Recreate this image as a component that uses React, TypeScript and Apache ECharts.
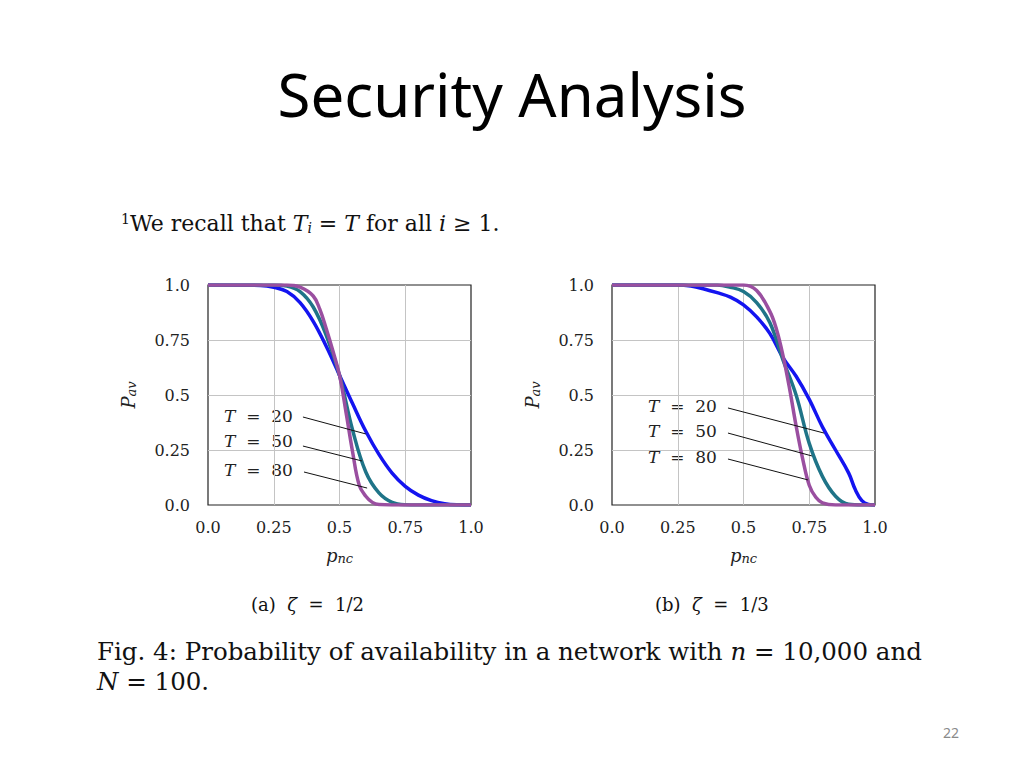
import React, { useEffect, useRef } from "react";
import * as echarts from "echarts";

// ---- Data: (a) zeta = 1/2 ----
const xA_T20 = [0, 0.2, 0.25, 0.3, 0.35, 0.4, 0.45, 0.5, 0.55, 0.6, 0.65, 0.7, 0.75, 0.8, 0.85, 0.9, 0.95, 1];
const yA_T20 = [1, 0.998, 0.99, 0.97, 0.92, 0.835, 0.72, 0.59, 0.46, 0.335, 0.23, 0.145, 0.085, 0.045, 0.02, 0.006, 0.001, 0];
const xA_T50 = [0, 0.25, 0.3, 0.35, 0.4, 0.45, 0.5, 0.55, 0.6, 0.65, 0.7, 0.75, 0.8, 1];
const yA_T50 = [1, 1, 0.995, 0.97, 0.9, 0.77, 0.59, 0.34, 0.15, 0.055, 0.012, 0.001, 0, 0];
const xA_T80 = [0, 0.3, 0.35, 0.4, 0.425, 0.45, 0.475, 0.5, 0.525, 0.55, 0.575, 0.6, 0.625, 0.65, 0.7, 1];
const yA_T80 = [1, 1, 0.99, 0.95, 0.89, 0.8, 0.7, 0.59, 0.42, 0.24, 0.09, 0.04, 0.012, 0.002, 0, 0];

// ---- Data: (b) zeta = 1/3 ----
const xB_T20 = [0, 0.25, 0.3, 0.35, 0.4, 0.45, 0.5, 0.55, 0.6, 0.65, 0.7, 0.75, 0.8, 0.85, 0.9, 0.925, 0.95, 0.975, 1];
const yB_T20 = [1, 1, 0.995, 0.982, 0.965, 0.945, 0.91, 0.855, 0.78, 0.67, 0.585, 0.48, 0.355, 0.25, 0.145, 0.07, 0.02, 0.003, 0];
const xB_T50 = [0, 0.4, 0.45, 0.5, 0.55, 0.6, 0.65, 0.7, 0.75, 0.8, 0.85, 0.9, 0.95, 1];
const yB_T50 = [1, 1, 0.99, 0.97, 0.92, 0.83, 0.66, 0.5, 0.28, 0.13, 0.04, 0.003, 0, 0];
const xB_T80 = [0, 0.5, 0.55, 0.6, 0.625, 0.65, 0.675, 0.7, 0.725, 0.75, 0.775, 0.8, 0.85, 1];
const yB_T80 = [1, 1, 0.975, 0.88, 0.8, 0.68, 0.53, 0.36, 0.21, 0.09, 0.035, 0.01, 0, 0];

// leader lines [x0, y0, x1, y1] in data coords
const leadersA = [
  [0.361, 0.4, 0.6, 0.323],
  [0.361, 0.268, 0.586, 0.2],
  [0.365, 0.15, 0.605, 0.077],
];
const leadersB = [
  [0.441, 0.441, 0.806, 0.327],
  [0.441, 0.327, 0.76, 0.223],
  [0.441, 0.209, 0.745, 0.114],
];

const tickLabels = ["0.0", "0.25", "0.5", "0.75", "1.0"];
const seriesNames = ["T = 20", "T = 50", "T = 80"];
const colors = ["#1414f0", "#1f7488", "#9a4fa0"];

const pairs = (xs: number[], ys: number[]) => xs.map((x, i) => [x, ys[i]]);
const fmt = (v: number) => tickLabels[Math.round(v * 4)] ?? String(v);

const labelFont = "DejaVu Serif";
const serif = "DejaVu Serif";

function makeAxes(gi: number) {
  const common = {
    type: "value",
    min: 0,
    max: 1,
    interval: 0.25,
    gridIndex: gi,
    axisLine: { show: false },
    axisTick: { show: false },
    splitLine: { show: true, showMinLine: false, showMaxLine: false, lineStyle: { color: "#c4c4c4", width: 1 } },
    axisLabel: { formatter: fmt, fontFamily: labelFont, fontSize: 16, color: "#222" },
  };
  const nameRich = {
    p: { fontFamily: labelFont, fontStyle: "italic", fontSize: 18, color: "#222" },
    s: { fontFamily: labelFont, fontStyle: "italic", fontSize: 13, color: "#222", padding: [6, 0, 0, 0] },
  };
  return {
    x: {
      ...common,
      name: "{p|p}{s|nc}",
      nameLocation: "middle",
      nameGap: 41,
      nameTextStyle: { rich: nameRich },
      axisLabel: { ...common.axisLabel, margin: 14 },
    },
    y: {
      ...common,
      name: "{p|P}{s|av}",
      nameLocation: "middle",
      nameGap: 70,
      nameRotate: 90,
      nameTextStyle: { rich: nameRich },
      axisLabel: { ...common.axisLabel, margin: 18 },
    },
  };
}

function lineSeries(name: string, xs: number[], ys: number[], gi: number, color: string, leader?: number[]) {
  return {
    type: "line",
    name,
    xAxisIndex: gi,
    yAxisIndex: gi,
    data: pairs(xs, ys),
    smooth: 0.4,
    showSymbol: false,
    lineStyle: { width: 3.5, color },
    itemStyle: { color },
    markLine: leader
      ? {
          silent: true,
          symbol: "none",
          label: { show: false },
          lineStyle: { color: "#111", width: 1, type: "solid" },
          data: [[{ coord: [leader[0], leader[1]] }, { coord: [leader[2], leader[3]] }]],
        }
      : undefined,
  };
}

function tLabel(text: string, x: number, y: number) {
  const num = text.split("=")[1].trim();
  return {
    type: "text",
    left: x,
    top: y - 10,
    style: {
      text: "{i|T}  =  " + num,
      rich: { i: { fontStyle: "italic", fontFamily: labelFont, fontSize: 17, fill: "#222" } },
      fontFamily: labelFont,
      fontSize: 17,
      fill: "#222",
    },
  };
}

export default function App() {
  const ref = useRef<HTMLDivElement>(null);
  useEffect(() => {
    if (!ref.current) return;
    const chart = echarts.init(ref.current, undefined, { renderer: "svg" });
    const a = makeAxes(0);
    const b = makeAxes(1);
    chart.setOption({
      animation: false,
      backgroundColor: "#ffffff",
      grid: [
        { left: 208, top: 285, width: 263, height: 220, show: true, borderColor: "#222", borderWidth: 1.2 },
        { left: 612, top: 285, width: 263, height: 220, show: true, borderColor: "#222", borderWidth: 1.2 },
      ],
      xAxis: [a.x, b.x],
      yAxis: [a.y, b.y],
      series: [
        lineSeries(seriesNames[0], xA_T20, yA_T20, 0, colors[0], leadersA[0]),
        lineSeries(seriesNames[1], xA_T50, yA_T50, 0, colors[1], leadersA[1]),
        lineSeries(seriesNames[2], xA_T80, yA_T80, 0, colors[2], leadersA[2]),
        lineSeries(seriesNames[0], xB_T20, yB_T20, 1, colors[0], leadersB[0]),
        lineSeries(seriesNames[1], xB_T50, yB_T50, 1, colors[1], leadersB[1]),
        lineSeries(seriesNames[2], xB_T80, yB_T80, 1, colors[2], leadersB[2]),
      ],
      graphic: [
        {
          type: "text",
          left: "center",
          top: 64,
          style: { text: "Security Analysis", fontFamily: "Noto Sans", fontSize: 60, fill: "#000" },
        },
        {
          type: "text",
          left: 121,
          top: 212,
          style: {
            text: "{sup|1}We recall that {i|T}{sub|i} = {i|T} for all {i|i} ≥ 1.",
            fontFamily: serif,
            fontSize: 22,
            fill: "#111",
            rich: {
              sup: { fontFamily: serif, fontSize: 14, fill: "#111", padding: [0, 0, 9, 0] },
              i: { fontFamily: serif, fontStyle: "italic", fontSize: 22, fill: "#111" },
              sub: { fontFamily: serif, fontStyle: "italic", fontSize: 14, fill: "#111", padding: [9, 0, 0, 0] },
            },
          },
        },
        tLabel(seriesNames[0], 224, 417),
        tLabel(seriesNames[1], 224, 442),
        tLabel(seriesNames[2], 224, 471),
        tLabel(seriesNames[0], 648, 407),
        tLabel(seriesNames[1], 648, 432),
        tLabel(seriesNames[2], 648, 458),
        {
          type: "text",
          left: 251,
          top: 595,
          style: {
            text: "(a)  {i|ζ}  =  1/2",
            fontFamily: serif,
            fontSize: 18,
            fill: "#111",
            rich: { i: { fontFamily: serif, fontStyle: "italic", fontSize: 18, fill: "#111" } },
          },
        },
        {
          type: "text",
          left: 655,
          top: 595,
          style: {
            text: "(b)  {i|ζ}  =  1/3",
            fontFamily: serif,
            fontSize: 18,
            fill: "#111",
            rich: { i: { fontFamily: serif, fontStyle: "italic", fontSize: 18, fill: "#111" } },
          },
        },
        {
          type: "text",
          left: 97,
          top: 639,
          style: {
            text: "Fig. 4: Probability of availability in a network with {i|n} = 10,000 and",
            fontFamily: serif,
            fontSize: 24.5,
            fill: "#111",
            rich: { i: { fontFamily: serif, fontStyle: "italic", fontSize: 24.5, fill: "#111" } },
          },
        },
        {
          type: "text",
          left: 97,
          top: 669,
          style: {
            text: "{i|N} = 100.",
            fontFamily: serif,
            fontSize: 24.5,
            fill: "#111",
            rich: { i: { fontFamily: serif, fontStyle: "italic", fontSize: 24.5, fill: "#111" } },
          },
        },
        {
          type: "text",
          left: 943,
          top: 725,
          style: { text: "22", fontFamily: "Noto Sans", fontSize: 14, fill: "#8a8a8a" },
        },
      ],
    });
    return () => chart.dispose();
  }, []);
  return (
    <div
      ref={ref}
      style={{ position: "absolute", left: 0, top: 0, width: 1024, height: 768, background: "#fff" }}
    />
  );
}
